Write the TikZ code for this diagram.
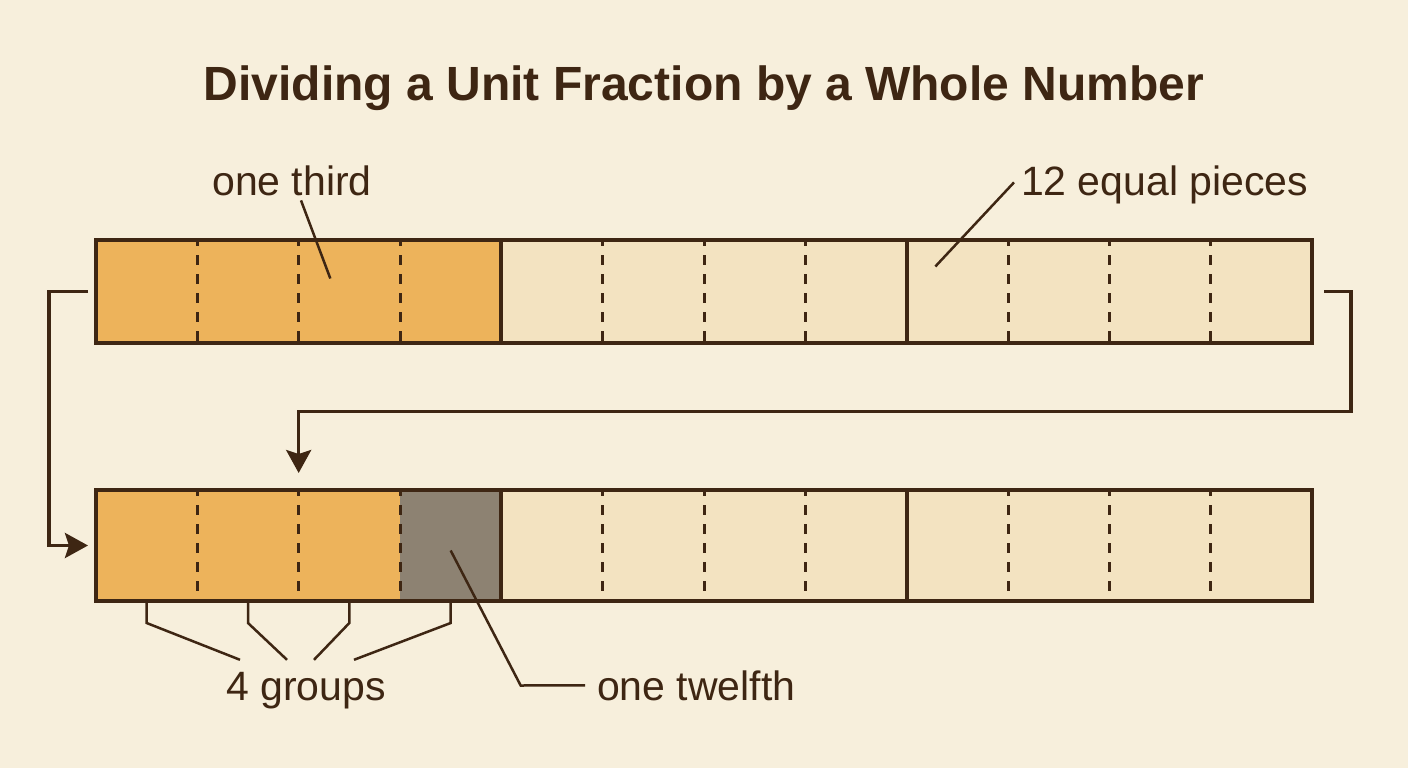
\documentclass[tikz,border=0pt]{standalone}
\usepackage{fontspec}
\setmainfont{Liberation Sans}
\usetikzlibrary{arrows.meta}
\definecolor{paper}{HTML}{F7EFDC}
\definecolor{pale}{HTML}{F3E3C1}
\definecolor{amber}{HTML}{EDB35B}
\definecolor{slate}{HTML}{8D8272}
\definecolor{ink}{HTML}{3E2613}

\begin{document}
\begin{tikzpicture}[x=1pt,y=1pt]
\tikzstyle{every node}+=[inner sep=0pt,outer sep=0pt]
\tikzstyle{cell}=[minimum width=101.333pt,draw=none]
\tikzstyle{label}=[text=ink,font=\fontsize{41}{49}\selectfont]
\tikzstyle{cut}=[ink,line width=3pt,dash pattern=on 9.5pt off 9.5pt,dash phase=4pt]
\tikzstyle{rim}=[ink,line width=4pt]
\tikzstyle{link}=[ink,line width=3.5pt,-{Stealth[length=23pt,width=25pt,inset=4pt]}]
\tikzstyle{lead}=[ink,line width=2.5pt]
\useasboundingbox (0,0) rectangle (1408,-768);
\fill[paper] (0,0) rectangle (1408,-768);
\node[anchor=base,text=ink,font=\bfseries\fontsize{48}{58}\selectfont] (title) at (704,-100) {Dividing a Unit Fraction by a Whole Number};
% top bar: one third
\foreach \i in {1,...,12} {
  \pgfmathsetmacro\cx{96+(\i-0.5)*101.333}
  \ifnum\i<5 \def\tone{amber}\else\def\tone{pale}\fi
  \node[cell,minimum height=103pt,fill=\tone] (t\i) at (\cx,-291.5) {};
}
\foreach \i in {1,2,3,5,6,7,9,10,11}
  \draw[cut] (t\i.north east) -- (t\i.south east);
\foreach \i in {4,8}
  \draw[rim] (t\i.north east) -- (t\i.south east);
\draw[rim] (t1.north west) rectangle (t12.south east);
% bottom bar: one twelfth
\foreach \i in {1,...,12} {
  \pgfmathsetmacro\cx{96+(\i-0.5)*101.333}
  \ifnum\i<4 \def\tone{amber}\else\ifnum\i=4 \def\tone{slate}\else\def\tone{pale}\fi\fi
  \node[cell,minimum height=111pt,fill=\tone] (b\i) at (\cx,-545.5) {};
}
\foreach \i in {1,2,3,5,6,7,9,10,11}
  \draw[cut] (b\i.north east) -- (b\i.south east);
\foreach \i in {4,8}
  \draw[rim] (b\i.north east) -- (b\i.south east);
\draw[rim] (b1.north west) rectangle (b12.south east);
% arrows
\draw[link] ([xshift=-8pt]t1.west) -- ++(-39,0) |- ([xshift=-8pt]b1.west);
\draw[link] ([xshift=12pt]t12.east) -- ++(27,0) -- ++(0,-120) -| ([yshift=17pt]b2.north east);
% labels
\node[label,anchor=base] (third) at (292,-195) {one third};
\coordinate (p3) at ([xshift=-19pt,yshift=13pt]t3.center);
\draw[lead] ([xshift=9pt,yshift=-5pt]third.south) -- (p3);
\node[label,anchor=base west] (pieces) at (1021,-195) {12 equal pieces};
\coordinate (p9) at ([xshift=-22pt,yshift=25pt]t9.center);
\draw[lead] ([xshift=-7pt,yshift=2pt]pieces.west) -- (p9);
\node[label,anchor=base] (groups) at (306,-700) {4 groups};
\draw[lead] (b1.south) -- ++(0,-22) -- ([xshift=-66pt,yshift=12pt]groups.north);
\draw[lead] (b2.south) -- ++(0,-22) -- ([xshift=-19pt,yshift=12pt]groups.north);
\draw[lead] (b3.south) -- ++(0,-22) -- ([xshift=8pt,yshift=12pt]groups.north);
\draw[lead] (b4.south) -- ++(0,-22) -- ([xshift=48pt,yshift=12pt]groups.north);
\node[label,anchor=base west] (twelfth) at (597,-700) {one twelfth};
\draw[lead] ([yshift=-5pt]b4.center) -- ++(70,-135) -- ([xshift=-12pt]twelfth.west);
\end{tikzpicture}
\end{document}
